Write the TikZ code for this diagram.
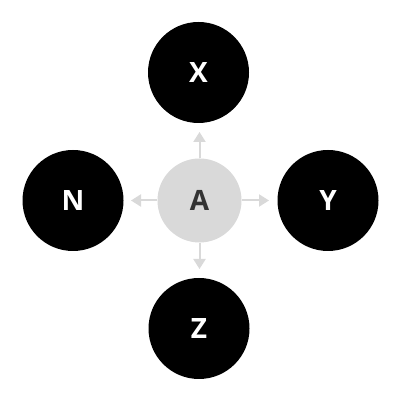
\documentclass[tikz,border=0pt]{standalone}
\usepackage{fontspec}
\setmainfont{Open Sans}
\usetikzlibrary{arrows.meta}
\definecolor{lightg}{HTML}{D9D9D9}
\definecolor{darkt}{HTML}{333333}
\begin{document}
\begin{tikzpicture}[x=1pt,y=1pt,
  outer/.style={circle,fill=black,minimum size=101pt,inner sep=0pt,text=white,font=\fontsize{28}{30}\selectfont\bfseries},
  inner/.style={circle,fill=lightg,minimum size=84pt,inner sep=0pt,text=darkt,font=\fontsize{28}{30}\selectfont\bfseries},
  arr/.style={draw=lightg,line width=2pt,-{Triangle[length=10pt,width=12pt]}}]
\useasboundingbox[fill=white] (0,0) rectangle (401,403);
\node[inner] (a) at (199.5,202.5) {A};
\node[outer] (x) at (198.5,330.5) {X};
\node[outer] (n) at (73,202.5) {N};
\node[outer] (y) at (328,202.5) {Y};
\node[outer] (z) at (199,74.5) {Z};
\coordinate (tu) at (199.5,271);
\coordinate (td) at (199.5,134);
\coordinate (tl) at (131,202.5);
\coordinate (tr) at (269,202.5);
\draw[arr] (a.north) -- (tu);
\draw[arr] (a.south) -- (td);
\draw[arr] (a.west) -- (tl);
\draw[arr] (a.east) -- (tr);
\end{tikzpicture}
\end{document}
